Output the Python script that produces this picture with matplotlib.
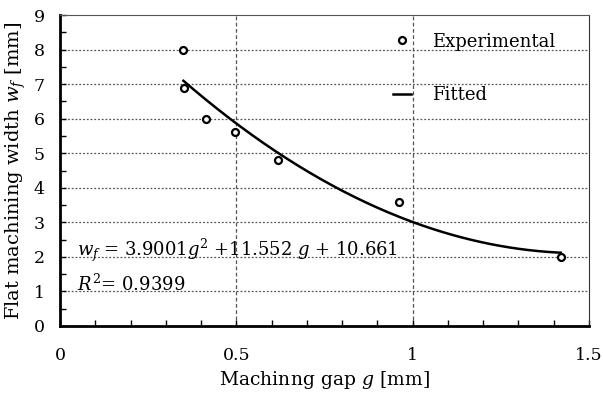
import numpy as np
import matplotlib
matplotlib.use("Agg")
import matplotlib.pyplot as plt
from matplotlib.ticker import MultipleLocator

# measured points
gap = [0.35, 0.352, 0.415, 0.497, 0.617, 0.961, 1.422]
width = [8.0, 6.9, 6.0, 5.6, 4.8, 3.6, 2.0]

# fitted quadratic shown on the chart
coef = [3.9001, -11.552, 10.661]
fit_range = [0.35, 1.42]

plt.rcParams['font.family'] = ['DejaVu Serif']
plt.rcParams['mathtext.fontset'] = 'dejavuserif'

fig = plt.figure(figsize=(6.03, 3.98), dpi=100)
ax = fig.add_axes([60 / 603, 1 - 326 / 398, 529 / 603, 311 / 398])

g = np.linspace(fit_range[0], fit_range[1], 200)
ax.plot(g, np.polyval(coef, g), color='black', lw=1.8, label='Fitted', zorder=3)
ax.plot(gap, width, 'o', ms=5, mfc='white', mec='black', mew=1.6,
        label='Experimental', zorder=4)

ax.set_xlim(0, 1.5)
ax.set_ylim(0, 9)
ax.xaxis.set_minor_locator(MultipleLocator(0.1))
ax.yaxis.set_major_locator(MultipleLocator(1))
ax.yaxis.set_minor_locator(MultipleLocator(0.5))
ax.set_xticks([0, 0.5, 1, 1.5])
ax.set_xticklabels(['0', '0.5', '1', '1.5'])

ax.tick_params(which='both', direction='in', labelsize=12.5, color='black')
ax.tick_params(which='major', length=4, width=1)
ax.tick_params(which='minor', length=4, width=1)
ax.tick_params(axis='x', pad=15)
ax.tick_params(axis='y', pad=11)

for y in range(1, 9):
    ax.axhline(y, color='#555555', lw=0.9, ls=(0, (1.5, 1.5)), zorder=1)
for x in [0.5, 1.0]:
    ax.axvline(x, color='#555555', lw=0.9, ls=(0, (3, 2)), zorder=1)

ax.spines['left'].set_linewidth(2)
ax.spines['bottom'].set_linewidth(2)
ax.spines['top'].set_linewidth(0.8)
ax.spines['right'].set_linewidth(0.8)
ax.spines['top'].set_color('#555555')
ax.spines['right'].set_color('#333333')

ax.set_xlabel('Machinng gap $g$ [mm]', fontsize=13.5, labelpad=4)
ax.set_ylabel('Flat machining width $w_f$ [mm]', fontsize=14, labelpad=4)

ax.text(0.048, 2.03, r'$w_f$ = 3.9001$g^2$ +11.552 $g$ + 10.661', fontsize=13,
        va='baseline', ha='left')
ax.text(0.048, 1.03, r'$R^2$= 0.9399', fontsize=13, va='baseline', ha='left')

handles, labels = ax.get_legend_handles_labels()
ax.legend(handles[::-1], labels[::-1], loc='upper left', bbox_to_anchor=(0.598, 0.995),
          frameon=False, fontsize=13, labelspacing=1.95, handlelength=1.0,
          handletextpad=1.2)

fig.savefig('out.png', dpi=100)
